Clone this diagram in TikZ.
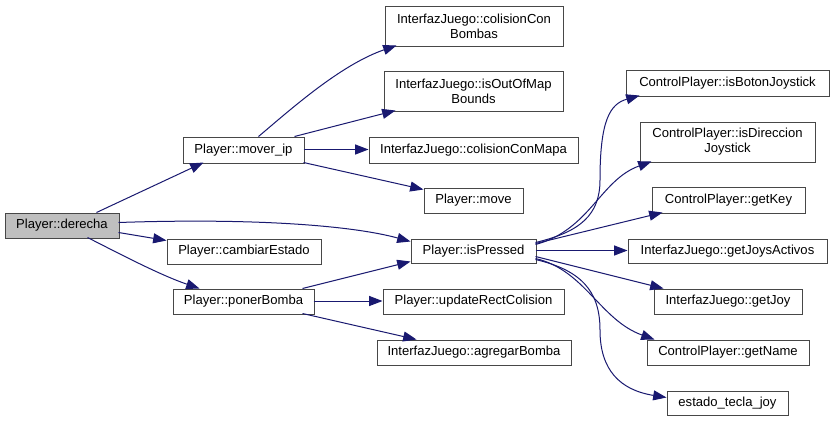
\documentclass[tikz,border=0pt]{standalone}
\usepackage{fontspec}
\setmainfont{Liberation Sans}
\usetikzlibrary{arrows.meta}
\definecolor{mblue}{HTML}{191970}
\definecolor{nodegray}{HTML}{BFBFBF}
\tikzset{
  box/.style={draw=black!72, line width=0.75pt, fill=white, inner sep=0pt, align=center,
    font=\fontsize{9.8}{11.25}\selectfont},
  conn/.style={draw=mblue, line width=0.75pt, -{Triangle[length=10pt,width=7.5pt]}}
}
\newcommand\mybox[7][]{\node[box,#1,minimum width={(#5-#3)*0.75pt},minimum height={(#6-#4)*0.75pt}] (#2) at ({(#3+#5)/2},{(#4+#6)/2}) {#7};}
\begin{document}
\begin{tikzpicture}[x=0.75pt,y=-0.75pt]
\useasboundingbox[fill=white] (0,0) rectangle (835,422);
\mybox[fill=nodegray]{derecha}{5}{213}{119}{238}{Player::derecha}
\mybox{mover}{183}{137}{304}{163}{Player::mover\_ip}
\mybox{cambiar}{167}{239}{321}{264}{Player::cambiarEstado}
\mybox{poner}{173}{289}{314}{314}{Player::ponerBomba}
\mybox{colBombas}{385}{6}{563}{46}{InterfazJuego::colisionCon\\Bombas}
\mybox{outMap}{384}{71}{563}{111}{InterfazJuego::isOutOfMap\\Bounds}
\mybox{colMapa}{369}{137}{578}{163}{InterfazJuego::colisionConMapa}
\mybox{move}{424}{188}{523}{213}{Player::move}
\mybox{pressed}{411}{239}{536}{263}{Player::isPressed}
\mybox{updRect}{383}{289}{564}{314}{Player::updateRectColision}
\mybox{agregar}{377}{340}{571}{365}{InterfazJuego::agregarBomba}
\mybox{boton}{626}{70}{829}{96}{ControlPlayer::isBotonJoystick}
\mybox{direccion}{640}{122}{815}{162}{ControlPlayer::isDireccion\\Joystick}
\mybox{getKey}{652}{187}{805}{213}{ControlPlayer::getKey}
\mybox{joysAct}{628}{239}{827}{263}{InterfazJuego::getJoysActivos}
\mybox{getJoy}{654}{289}{802}{314}{InterfazJuego::getJoy}
\mybox{getName}{647}{340}{809}{365}{ControlPlayer::getName}
\mybox{estado}{667}{391}{788}{415}{estado\_tecla\_joy}
% edges from derecha
\draw[conn] ([shift={(92,0)}]derecha.north west) -- ([shift={(21,26)}]mover.north west);
\draw[conn] ([shift={(114,10)}]derecha.north west) .. controls (250,218) and (350,225) .. ([shift={(0,3)}]pressed.north west);
\draw[conn] ([shift={(114,20)}]derecha.north west) -- ([shift={(0,2)}]cambiar.north west);
\draw[conn] ([shift={(83,25)}]derecha.north west) .. controls (120,254) and (160,275) .. ([shift={(27,0)}]poner.north west);
% edges from mover_ip
\draw[conn] ([shift={(76,0)}]mover.north west) .. controls (290,110) and (340,65) .. ([shift={(12,40)}]colBombas.north west);
\draw[conn] ([shift={(112,0)}]mover.north west) -- ([shift={(12,40)}]outMap.north west);
\draw[conn] ([shift={(121,13)}]mover.north west) -- ([shift={(0,13)}]colMapa.north west);
\draw[conn] ([shift={(121,26)}]mover.north west) -- ([shift={(0,2)}]move.north west);
% edges from ponerBomba
\draw[conn] ([shift={(130,0)}]poner.north west) -- ([shift={(0,23)}]pressed.north west);
\draw[conn] ([shift={(141,12.5)}]poner.north west) -- ([shift={(0,12.5)}]updRect.north west);
\draw[conn] ([shift={(130,25)}]poner.north west) -- ([shift={(40,0)}]agregar.north west);
% edges from isPressed
\draw[conn] ([shift={(125,4)}]pressed.north west) .. controls (580,232) and (600,215) .. (600,180) .. controls (600,120) and (610,104) .. ([shift={(14,26)}]boton.north west);
\draw[conn] ([shift={(125,6)}]pressed.north west) .. controls (590,230) and (600,180) .. ([shift={(12,40)}]direccion.north west);
\draw[conn] ([shift={(125,5)}]pressed.north west) -- ([shift={(11,26)}]getKey.north west);
\draw[conn] ([shift={(125,12)}]pressed.north west) -- ([shift={(0,12)}]joysAct.north west);
\draw[conn] ([shift={(125,18)}]pressed.north west) -- ([shift={(10,0)}]getJoy.north west);
\draw[conn] ([shift={(125,20)}]pressed.north west) .. controls (585,270) and (600,320) .. ([shift={(8,0)}]getName.north west);
\draw[conn] ([shift={(125,21)}]pressed.north west) .. controls (580,270) and (600,290) .. (600,330) .. controls (600,370) and (620,390) .. ([shift={(0,7)}]estado.north west);
\end{tikzpicture}
\end{document}
